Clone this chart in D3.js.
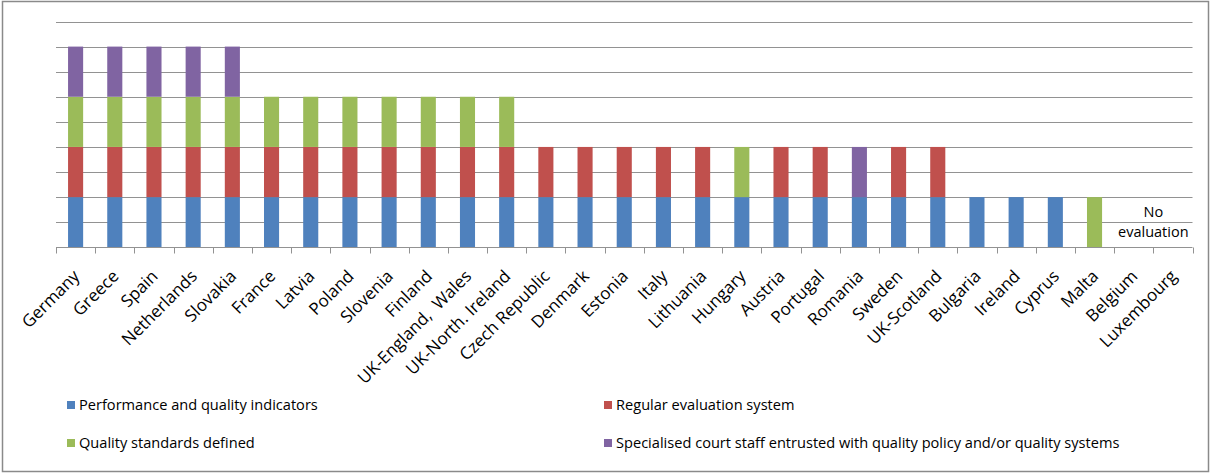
<!DOCTYPE html>
<html>
<head>
<meta charset="utf-8">
<script src="https://cdn.jsdelivr.net/npm/d3@7"></script>
<style>
  html, body { margin: 0; padding: 0; background: #fff; }
  svg { display: block; }
  text { font-family: "Open Sans", "Liberation Sans", sans-serif; fill: #000; }
</style>
</head>
<body>
<svg id="chart" width="1212" height="474"></svg>
<script>
const categories = ["Germany","Greece","Spain","Netherlands","Slovakia","France","Latvia","Poland","Slovenia","Finland","UK-England,  Wales","UK-North. Ireland","Czech Republic","Denmark","Estonia","Italy","Lithuania","Hungary","Austria","Portugal","Romania","Sweden","UK-Scotland","Bulgaria","Ireland","Cyprus","Malta","Belgium","Luxembourg"];
const seriesNames = ["Performance and quality indicators","Regular evaluation system","Quality standards defined","Specialised court staff entrusted with quality policy and/or quality systems"];
const performance = [1,1,1,1,1,1,1,1,1,1,1,1,1,1,1,1,1,1,1,1,1,1,1,1,1,1,0,0,0];
const regularEval = [1,1,1,1,1,1,1,1,1,1,1,1,1,1,1,1,1,0,1,1,0,1,1,0,0,0,0,0,0];
const qualityStd  = [1,1,1,1,1,1,1,1,1,1,1,1,0,0,0,0,0,1,0,0,0,0,0,0,0,0,1,0,0];
const specialised = [1,1,1,1,1,0,0,0,0,0,0,0,0,0,0,0,0,0,0,0,1,0,0,0,0,0,0,0,0];
const yTicks = [0,0.5,1,1.5,2,2.5,3,3.5,4,4.5];
const colors = ["#4F81BD","#C0504D","#9BBB59","#8064A2"];
const noEvalText = ["No","evaluation"];

const svg = d3.select("#chart");
const plot = {left: 56, right: 1192.5, top: 21.5, bottom: 247.3};

// outer frame
svg.append("rect").attr("x", 2.5).attr("y", 1.5).attr("width", 1206).attr("height", 470)
  .attr("fill", "#fff").attr("stroke", "#8a8a8a").attr("stroke-width", 1.5);

const x = d3.scaleBand().domain(categories).range([plot.left, plot.right]).paddingInner(0).paddingOuter(0);
const y = d3.scaleLinear().domain([0, 4.5]).range([plot.bottom, plot.top]);

// gridlines
svg.append("g").selectAll("line").data(yTicks.slice(1)).join("line")
  .attr("x1", plot.left).attr("x2", plot.right)
  .attr("y1", d => Math.round(y(d)) + 0.5).attr("y2", d => Math.round(y(d)) + 0.5)
  .attr("stroke", "#929292").attr("stroke-width", 1);

// stacked data
const rows = categories.map((c, i) => ({cat: c, s0: performance[i], s1: regularEval[i], s2: qualityStd[i], s3: specialised[i]}));
const stacked = d3.stack().keys(["s0","s1","s2","s3"])(rows);

const bw = x.bandwidth() * 0.385;
svg.append("g").selectAll("g").data(stacked).join("g")
  .attr("fill", (d, i) => colors[i])
  .selectAll("rect").data(d => d.filter(p => p[1] - p[0] > 0)).join("rect")
  .attr("x", d => x(d.data.cat) + x.bandwidth() / 2 - bw / 2)
  .attr("width", bw)
  .attr("y", d => y(d[1]))
  .attr("height", d => y(d[0]) - y(d[1]));

// x axis
const axis = svg.append("g").attr("transform", `translate(0,${Math.round(plot.bottom) + 0.5})`);
axis.append("line").attr("x1", plot.left).attr("x2", plot.right).attr("stroke", "#929292");
const boundaries = categories.map(c => x(c)).concat([plot.right]);
axis.selectAll("line.tk").data(boundaries).join("line").attr("class", "tk")
  .attr("x1", d => Math.round(d) + 0.5).attr("x2", d => Math.round(d) + 0.5)
  .attr("y1", 0).attr("y2", 6).attr("stroke", "#929292");

svg.append("g").selectAll("text").data(categories).join("text")
  .attr("transform", d => `translate(${x(d) + x.bandwidth() / 2 + 5},${plot.bottom + 30}) rotate(-45)`)
  .attr("text-anchor", "end")
  .style("white-space", "pre")
  .attr("font-size", "17px")
  .text(d => d);

// "No evaluation" annotation
const nx = (x("Belgium") + x("Luxembourg") + x.bandwidth()) / 2;
svg.append("g").selectAll("text").data(noEvalText).join("text")
  .attr("x", nx).attr("y", (d, i) => 217 + i * 20)
  .attr("text-anchor", "middle").attr("font-size", "14.5px").attr("fill", "#222")
  .text(d => d);

// legend
const legendPos = [[67, 405], [604, 405], [67, 443], [604, 443]];
const lg = svg.append("g").selectAll("g").data(seriesNames).join("g")
  .attr("transform", (d, i) => `translate(${legendPos[i][0]},${legendPos[i][1]})`);
lg.append("rect").attr("x", 0).attr("y", -4).attr("width", 8).attr("height", 8).attr("fill", (d, i) => colors[i]);
lg.append("text").attr("x", 12).attr("y", 0).attr("dy", "0.35em").attr("font-size", "14.6px").text(d => d);
</script>
</body>
</html>
